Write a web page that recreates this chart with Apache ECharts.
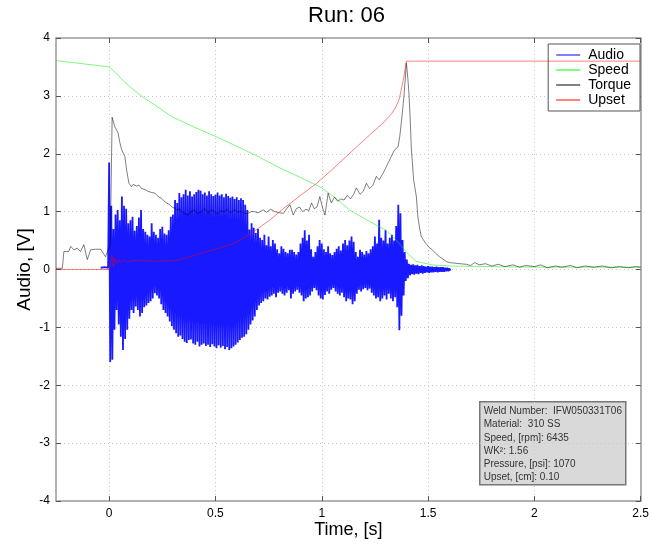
<!DOCTYPE html>
<html>
<head>
<meta charset="utf-8">
<script src="https://cdn.jsdelivr.net/npm/echarts@6/dist/echarts.min.js"></script>
<style>
  html, body { margin: 0; padding: 0; background: #fff; }
  #chart { width: 652px; height: 548px; }
</style>
</head>
<body>
<div id="chart"></div>
<script>
// Axis tick values
const xTicks = [0, 0.5, 1, 1.5, 2, 2.5];
const yTicks = [-4, -3, -2, -1, 0, 1, 2, 3, 4];

// Audio: short lead-in before the weld, then peak envelope per 0.01 s bin
const audioLead = [[-0.04, 0.03], [-0.02, 0.04], [-0.005, 0.03]];
const audioStart = 0;
const audioStep = 0.01;
const audioHi = [
  1.85, 1.10, 0.70, 0.95, 1.03, 0.85, 1.26, 1.10, 1.05, 0.80,
  0.85, 0.91, 0.67, 0.75, 0.90, 1.03, 0.70, 0.65, 0.60, 0.57,
  0.80, 0.65, 0.60, 0.55, 0.70, 0.74, 0.62, 0.60, 0.68, 0.91,
  0.95, 1.20, 1.15, 1.32, 1.25, 1.30, 1.38, 1.28, 1.35, 1.26,
  1.30, 1.34, 1.38, 1.36, 1.30, 1.33, 1.28, 1.35, 1.30, 1.27,
  1.29, 1.33, 1.28, 1.30, 1.25, 1.31, 1.27, 1.24, 1.26, 1.22,
  1.25, 1.20, 1.23, 1.20, 1.12, 1.03, 0.69, 0.80, 0.72, 0.63,
  0.70, 0.55, 0.51, 0.60, 0.42, 0.57, 0.40, 0.51, 0.45, 0.35,
  0.28, 0.40, 0.36, 0.30, 0.28, 0.34, 0.34, 0.30, 0.26, 0.30,
  0.45, 0.55, 0.68, 0.50, 0.60, 0.35, 0.22, 0.30, 0.40, 0.51,
  0.45, 0.35, 0.30, 0.40, 0.28, 0.25, 0.30, 0.36, 0.40, 0.33,
  0.45, 0.51, 0.42, 0.50, 0.57, 0.48, 0.30, 0.22, 0.34, 0.30,
  0.26, 0.32, 0.28, 0.35, 0.40, 0.57, 0.45, 0.86, 0.55, 0.50,
  0.68, 0.45, 0.55, 0.60, 0.50, 0.75, 1.12, 0.97, 0.51, 0.30,
  0.17, 0.10, 0.08, 0.09, 0.07, 0.08, 0.06, 0.07, 0.06, 0.05,
  0.06, 0.05, 0.05, 0.04, 0.05, 0.04, 0.04, 0.04, 0.03, 0.03,
  0.02
];
const audioLo = [
  -1.60, -1.56, -1.04, -0.70, -0.95, -1.16, -1.39, -1.20, -1.04, -0.85,
  -0.70, -0.75, -0.64, -0.70, -0.81, -0.75, -0.65, -0.62, -0.58, -0.55,
  -0.50, -0.41, -0.45, -0.50, -0.60, -0.70, -0.75, -0.81, -0.90, -0.98,
  -1.04, -1.10, -1.16, -1.14, -1.20, -1.25, -1.27, -1.22, -1.21, -1.28,
  -1.30, -1.25, -1.33, -1.30, -1.28, -1.32, -1.30, -1.34, -1.29, -1.33,
  -1.36, -1.31, -1.35, -1.32, -1.38, -1.34, -1.39, -1.36, -1.33, -1.30,
  -1.26, -1.22, -1.18, -1.16, -1.12, -1.04, -0.95, -0.88, -0.81, -0.70,
  -0.62, -0.58, -0.55, -0.50, -0.52, -0.47, -0.45, -0.42, -0.48, -0.40,
  -0.38, -0.42, -0.45, -0.40, -0.36, -0.50, -0.42, -0.38, -0.35, -0.40,
  -0.45, -0.55, -0.50, -0.48, -0.45, -0.38, -0.32, -0.36, -0.45, -0.50,
  -0.52, -0.44, -0.38, -0.42, -0.35, -0.32, -0.38, -0.42, -0.45, -0.40,
  -0.48, -0.55, -0.50, -0.52, -0.60, -0.55, -0.42, -0.35, -0.38, -0.34,
  -0.32, -0.36, -0.33, -0.40, -0.45, -0.50, -0.48, -0.55, -0.50, -0.45,
  -0.52, -0.42, -0.50, -0.55, -0.48, -0.65, -1.05, -0.80, -0.45, -0.20,
  -0.15, -0.10, -0.08, -0.09, -0.07, -0.08, -0.06, -0.07, -0.06, -0.05,
  -0.06, -0.05, -0.05, -0.04, -0.05, -0.04, -0.04, -0.04, -0.03, -0.03,
  -0.02
];

// Spindle speed (scaled), [time, value]
const speedData = [
  [-0.25, 3.61], [0, 3.50], [0.03, 3.40], [0.061, 3.28], [0.1, 3.15],
  [0.155, 2.99], [0.2, 2.88], [0.295, 2.64], [0.4, 2.46], [0.5, 2.30],
  [0.6, 2.13], [0.686, 1.98], [0.8, 1.76], [0.9, 1.59], [0.991, 1.43],
  [1.06, 1.25], [1.13, 1.03], [1.21, 0.86], [1.30, 0.68], [1.35, 0.51],
  [1.40, 0.29], [1.445, 0.14], [1.52, 0.08], [1.6, 0.06], [1.8, 0.05],
  [2.0, 0.04], [2.5, 0.04]
];

// Torque (scaled), [time, value]
const torqueData = [
  [-0.25, 0.02], [-0.22, 0.02], [-0.213, 0.31], [-0.205, 0.34], [-0.19, 0.31],
  [-0.181, 0.40], [-0.166, 0.34], [-0.15, 0.37], [-0.135, 0.31], [-0.119, 0.43],
  [-0.103, 0.17], [-0.087, 0.34], [-0.064, 0.35], [-0.04, 0.35], [-0.017, 0.22],
  [-0.005, 0.34], [0.005, 0.40], [0.014, 2.63], [0.026, 2.47], [0.034, 2.50],
  [0.042, 2.36], [0.05, 2.20], [0.058, 2.08], [0.066, 2.01], [0.074, 1.95],
  [0.082, 1.72], [0.093, 1.49], [0.105, 1.43], [0.113, 1.47], [0.121, 1.49],
  [0.13, 1.44], [0.14, 1.46], [0.152, 1.40], [0.16, 1.43], [0.17, 1.38],
  [0.183, 1.35], [0.19, 1.38], [0.2, 1.33], [0.215, 1.32], [0.225, 1.28],
  [0.235, 1.25], [0.246, 1.23], [0.26, 1.18], [0.27, 1.15], [0.285, 1.12],
  [0.295, 1.08], [0.308, 1.06], [0.32, 1.03], [0.33, 1.05], [0.34, 1.00],
  [0.355, 0.97], [0.371, 0.94], [0.385, 1.00], [0.402, 1.03], [0.415, 0.97],
  [0.434, 1.00], [0.45, 1.05], [0.465, 0.98], [0.48, 1.03], [0.496, 1.00],
  [0.51, 0.96], [0.527, 1.02], [0.54, 0.99], [0.555, 1.04], [0.57, 0.98],
  [0.59, 1.03], [0.605, 0.99], [0.62, 1.01], [0.635, 0.97], [0.652, 0.97],
  [0.668, 1.00], [0.683, 1.00], [0.7, 0.98], [0.725, 1.03], [0.74, 0.99],
  [0.76, 1.04], [0.78, 1.00], [0.8, 0.98], [0.819, 0.97], [0.835, 1.05],
  [0.85, 1.12], [0.866, 0.94], [0.88, 1.05], [0.895, 1.08], [0.91, 1.00],
  [0.925, 1.04], [0.94, 1.02], [0.952, 1.15], [0.965, 1.05], [0.978, 1.08],
  [0.991, 1.26], [1.005, 1.05], [1.015, 0.94], [1.03, 1.32], [1.045, 1.15],
  [1.06, 1.25], [1.075, 1.18], [1.09, 1.22], [1.105, 1.20], [1.12, 1.28],
  [1.135, 1.22], [1.15, 1.30], [1.163, 1.41], [1.18, 1.30], [1.195, 1.35],
  [1.21, 1.49], [1.225, 1.40], [1.24, 1.45], [1.257, 1.61], [1.27, 1.55],
  [1.288, 1.66], [1.30, 1.75], [1.319, 1.89], [1.333, 2.00], [1.343, 2.07],
  [1.359, 2.12], [1.367, 2.30], [1.374, 2.53], [1.385, 2.93], [1.392, 3.25],
  [1.398, 3.57], [1.405, 3.30], [1.41, 3.05], [1.416, 2.60], [1.421, 2.12],
  [1.432, 1.55], [1.445, 1.26], [1.452, 0.91], [1.46, 0.72], [1.468, 0.57],
  [1.48, 0.50], [1.49, 0.45], [1.505, 0.38], [1.52, 0.34], [1.535, 0.28],
  [1.554, 0.22], [1.57, 0.18], [1.585, 0.14], [1.60, 0.12], [1.65, 0.10],
  [1.68, 0.09], [1.70, 0.07], [1.72, 0.12], [1.74, 0.08], [1.77, 0.10],
  [1.80, 0.06], [1.83, 0.09], [1.86, 0.05], [1.90, 0.08], [1.93, 0.04],
  [1.96, 0.07], [2.00, 0.05], [2.03, 0.08], [2.06, 0.03], [2.10, 0.06],
  [2.13, 0.04], [2.17, 0.07], [2.20, 0.03], [2.24, 0.06], [2.28, 0.04],
  [2.32, 0.06], [2.36, 0.03], [2.40, 0.05], [2.44, 0.03], [2.48, 0.05],
  [2.50, 0.04]
];

// Upset (scaled), [time, value]
const upsetData = [
  [-0.25, 0], [0, 0], [0.005, 0.02], [0.014, 0.25], [0.02, 0.05],
  [0.026, 0.20], [0.035, 0.11], [0.045, 0.17], [0.055, 0.12], [0.07, 0.16],
  [0.09, 0.13], [0.11, 0.15], [0.14, 0.16], [0.17, 0.15], [0.225, 0.14],
  [0.28, 0.15], [0.32, 0.16], [0.38, 0.22], [0.46, 0.31], [0.52, 0.37],
  [0.585, 0.45], [0.663, 0.61], [0.72, 0.76], [0.757, 0.86], [0.819, 1.05],
  [0.9, 1.28], [0.976, 1.49], [1.05, 1.73], [1.132, 2.01], [1.2, 2.24],
  [1.288, 2.53], [1.33, 2.70], [1.35, 2.82], [1.365, 2.95], [1.374, 3.11],
  [1.385, 3.30], [1.398, 3.60], [2.5, 3.60]
];

// Weld parameters shown in the info box
const infoLines = [
  'Weld Number:  IFW050331T06',
  'Material:  310 SS',
  'Speed, [rpm]: 6435',
  'WK\u00B2: 1.56',
  'Pressure, [psi]: 1070',
  'Upset, [cm]: 0.10'
];

// Audio drawn as a high/low zigzag so the waveform fills its envelope
const audioData = audioLead.slice();
audioHi.forEach((hi, i) => {
  const t = audioStart + i * audioStep;
  audioData.push([t, hi]);
  audioData.push([t + audioStep / 2, audioLo[i]]);
});

const FONT = "'Liberation Sans', Arial, Helvetica, sans-serif";
const axisGray = '#9a9a9a';

function lineSeries(name, data, color, light, opacity, width, z) {
  return {
    name, type: 'line', data, showSymbol: false, symbol: 'none',
    animation: false, z, xAxisIndex: 0, yAxisIndex: 0,
    itemStyle: { color: light },
    lineStyle: { color, width, opacity }
  };
}

const chart = echarts.init(document.getElementById('chart'));
chart.setOption({
  backgroundColor: '#fff',
  animation: false,
  title: {
    text: 'Run: 06', left: 308, top: 5, padding: 0,
    textStyle: { fontFamily: FONT, fontSize: 22, fontWeight: 'normal', color: '#000' }
  },
  grid: { left: 56, right: 10, top: 38, bottom: 47 },
  legend: {
    data: ['Audio', 'Speed', 'Torque', 'Upset'],
    orient: 'vertical', right: 12, top: 44,
    icon: 'rect', itemWidth: 24, itemHeight: 2, itemGap: 1,
    backgroundColor: '#fff', borderColor: '#555', borderWidth: 1,
    padding: [4, 9, 4, 8],
    textStyle: { fontFamily: FONT, fontSize: 14, color: '#000', padding: [0, 0, 0, 3] }
  },
  xAxis: [{
    type: 'value', min: -0.25, max: 2.5,
    name: 'Time, [s]', nameLocation: 'middle', nameGap: 20, nameMoveOverlap: false,
    nameTextStyle: { fontFamily: FONT, fontSize: 18, color: '#000' },
    axisLine: { onZero: false, lineStyle: { color: axisGray, width: 1.5 } },
    axisTick: { inside: true, length: 5, customValues: xTicks, lineStyle: { color: '#555' } },
    axisLabel: { customValues: xTicks, margin: 7, fontFamily: FONT, fontSize: 12, color: '#000' },
    splitLine: { show: true, lineStyle: { color: '#c8c8c8', type: [1, 3] } }
  }, {
    type: 'value', min: -0.25, max: 2.5, position: 'top',
    axisLine: { onZero: false, lineStyle: { color: axisGray, width: 1.5 } },
    axisTick: { inside: true, length: 5, customValues: xTicks, lineStyle: { color: '#555' } },
    axisLabel: { show: false }, splitLine: { show: false }
  }],
  yAxis: [{
    type: 'value', min: -4, max: 4, interval: 1,
    name: 'Audio, [V]', nameLocation: 'middle', nameGap: 22, nameMoveOverlap: false,
    nameTextStyle: { fontFamily: FONT, fontSize: 19, color: '#000' },
    axisLine: { show: true, onZero: false, lineStyle: { color: axisGray, width: 1.5 } },
    axisTick: { show: true, inside: true, length: 5, lineStyle: { color: '#555' } },
    axisLabel: { margin: 6, fontFamily: FONT, fontSize: 12, color: '#000' },
    splitLine: { show: true, lineStyle: { color: '#c8c8c8', type: [1, 3] } }
  }, {
    type: 'value', min: -4, max: 4, interval: 1, position: 'right',
    axisLine: { show: true, onZero: false, lineStyle: { color: axisGray, width: 1.5 } },
    axisTick: { show: true, inside: true, length: 5, lineStyle: { color: '#555' } },
    axisLabel: { show: false }, splitLine: { show: false }
  }],
  series: [
    lineSeries('Audio', audioData, '#0000ff', '#8080ff', 0.9, 1.8, 2),
    lineSeries('Speed', speedData, '#00ee00', '#80ff80', 0.5, 1, 3),
    lineSeries('Torque', torqueData, '#000000', '#808080', 0.5, 1, 4),
    lineSeries('Upset', upsetData, '#ff0000', '#ff8080', 0.5, 1, 5)
  ],
  graphic: [{
    type: 'group', left: 479, top: 401, z: 100,
    children: [
      { type: 'rect', shape: { x: 0, y: 0, width: 146, height: 83 },
        style: { fill: '#d9d9d9', stroke: '#777', lineWidth: 1.5 } },
      { type: 'text', x: 4, y: 3,
        style: { text: infoLines.join('\n'), fontFamily: FONT, fontSize: 10,
                 lineHeight: 13.2, fill: '#333' } }
    ]
  }]
});
</script>
</body>
</html>
